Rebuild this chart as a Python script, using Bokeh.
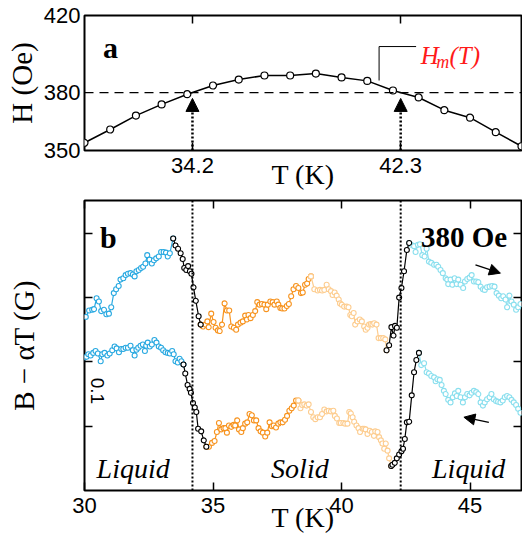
import math
from bokeh.plotting import figure
from bokeh.models import Range1d, LinearAxis, FixedTicker, Span, Label, Arrow, NormalHead
from bokeh.layouts import column
from bokeh.embed import file_html
from bokeh.resources import INLINE

SERIF = "Liberation Serif"
SANS = "Liberation Sans"

# ---------------- panel a data ----------------
T_a = [30, 31, 32, 33, 34, 35, 36, 37, 38, 39, 40, 41, 42, 43, 44, 45, 46, 47]
H_a = [354.0, 360.9, 368.1, 373.9, 379.2, 383.7, 386.8, 388.9, 388.9, 389.9,
       387.9, 386.1, 381.1, 377.5, 370.9, 367.0, 359.5, 352.2]
H_set = 380
T_cross = [34.2, 42.3]
a_yticks = [350, 380, 420]

# ---------------- panel b data (upper curve: warming) ----------------
up_blue_T = [30.05, 30.18, 30.30, 30.37, 30.47, 30.56, 30.65, 30.76, 30.85, 30.95, 31.04, 31.14, 31.23,
             31.33, 31.40, 31.51, 31.60, 31.69, 31.79, 31.88, 31.95, 32.02, 32.11, 32.20, 32.28, 32.37,
             32.44, 32.53, 32.62, 32.70, 32.79, 32.89, 32.98, 33.08, 33.17, 33.24, 33.32, 33.45]
up_blue_B = [0.270, 0.280, 0.281, 0.282, 0.299, 0.294, 0.279, 0.281, 0.274, 0.275, 0.285, 0.307, 0.313,
             0.318, 0.328, 0.330, 0.335, 0.337, 0.338, 0.336, 0.333, 0.341, 0.343, 0.346, 0.348, 0.353,
             0.366, 0.359, 0.353, 0.358, 0.361, 0.364, 0.371, 0.371, 0.370, 0.364, 0.369, 0.392]
up_blk1_T = [33.45, 33.54, 33.64, 33.74, 33.82, 33.88, 33.96, 34.03, 34.10, 34.16, 34.24, 34.33, 34.44, 34.52]
up_blk1_B = [0.392, 0.381, 0.376, 0.369, 0.360, 0.346, 0.343, 0.349, 0.341, 0.337, 0.316, 0.295, 0.271, 0.258]
up_or_T = [34.52, 34.61, 34.70, 34.78, 34.83, 34.93, 35.02, 35.10, 35.19, 35.26, 35.35, 35.45, 35.54,
           35.63, 35.71, 35.81, 35.90, 35.97, 36.07, 36.16, 36.25, 36.32, 36.38, 36.46, 36.55, 36.64,
           36.72, 36.81, 36.90, 37.00, 37.07, 37.13, 37.23, 37.32, 37.39, 37.48, 37.54, 37.62, 37.69,
           37.78, 37.87, 37.95, 38.04, 38.13, 38.23, 38.32, 38.42, 38.49, 38.58, 38.66, 38.72, 38.81]
up_or_B = [0.258, 0.255, 0.258, 0.263, 0.254, 0.275, 0.262, 0.253, 0.249, 0.248, 0.258, 0.291, 0.280,
           0.280, 0.255, 0.253, 0.250, 0.258, 0.261, 0.263, 0.272, 0.266, 0.273, 0.268, 0.273, 0.279,
           0.293, 0.289, 0.290, 0.289, 0.282, 0.289, 0.294, 0.293, 0.289, 0.294, 0.289, 0.284, 0.283,
           0.283, 0.287, 0.290, 0.302, 0.313, 0.318, 0.315, 0.307, 0.308, 0.320, 0.322, 0.329, 0.333]
up_lo_T = [38.81, 38.94, 39.07, 39.16, 39.24, 39.33, 39.42, 39.50, 39.59, 39.65, 39.73, 39.81, 39.89,
           39.94, 40.01, 40.10, 40.20, 40.27, 40.34, 40.40, 40.47, 40.53, 40.62, 40.71, 40.79, 40.88,
           40.94, 41.01, 41.07, 41.14, 41.20, 41.27, 41.36, 41.44, 41.53, 41.62, 41.70, 41.75]
up_lo_B = [0.333, 0.313, 0.311, 0.312, 0.311, 0.312, 0.320, 0.313, 0.310, 0.304, 0.308, 0.303, 0.297,
           0.291, 0.289, 0.286, 0.286, 0.285, 0.273, 0.271, 0.276, 0.258, 0.263, 0.266, 0.263, 0.255,
           0.250, 0.253, 0.258, 0.259, 0.258, 0.260, 0.258, 0.237, 0.237, 0.237, 0.235, 0.218]
up_blk2_T = [41.75, 41.85, 41.94, 42.02, 42.08, 42.15, 42.24, 42.33, 42.43, 42.54, 42.63]
up_blk2_B = [0.218, 0.226, 0.254, 0.241, 0.256, 0.253, 0.300, 0.315, 0.341, 0.374, 0.385]
up_cy_T = [42.63, 42.72, 42.82, 42.88, 42.97, 43.05, 43.14, 43.23, 43.31, 43.40, 43.49, 43.60, 43.69,
           43.76, 43.85, 43.94, 44.05, 44.11, 44.15, 44.24, 44.31, 44.40, 44.48, 44.54, 44.63, 44.73,
           44.80, 44.89, 44.98, 45.06, 45.15, 45.24, 45.32, 45.41, 45.50, 45.57, 45.66, 45.76, 45.86,
           45.95, 46.03, 46.12, 46.21, 46.29, 46.38, 46.44, 46.53, 46.61, 46.70, 46.79, 46.87, 46.96]
up_cy_B = [0.385, 0.382, 0.380, 0.371, 0.382, 0.383, 0.366, 0.364, 0.376, 0.356, 0.354, 0.351, 0.351,
           0.348, 0.343, 0.338, 0.330, 0.328, 0.321, 0.328, 0.320, 0.330, 0.321, 0.328, 0.320, 0.315,
           0.325, 0.329, 0.331, 0.335, 0.325, 0.325, 0.324, 0.317, 0.313, 0.312, 0.316, 0.317, 0.318,
           0.317, 0.307, 0.303, 0.299, 0.302, 0.297, 0.285, 0.303, 0.294, 0.289, 0.281, 0.285, 0.290]

# ---------------- panel b data (lower curve: cooling) ----------------
dn_blue_T = [30.00, 30.08, 30.15, 30.24, 30.34, 30.43, 30.52, 30.63, 30.69, 30.78, 30.89, 30.98, 31.08,
             31.17, 31.25, 31.34, 31.43, 31.51, 31.60, 31.69, 31.79, 31.88, 31.95, 32.02, 32.09, 32.18,
             32.27, 32.35, 32.40, 32.46, 32.54, 32.62, 32.72, 32.80, 32.89, 32.98, 33.06, 33.15, 33.24,
             33.32, 33.41, 33.47, 33.54, 33.63, 33.70, 33.77, 33.85]
dn_blue_B = [0.207, 0.208, 0.212, 0.210, 0.214, 0.217, 0.213, 0.201, 0.212, 0.214, 0.210, 0.213, 0.218,
             0.224, 0.221, 0.215, 0.220, 0.220, 0.222, 0.222, 0.225, 0.218, 0.210, 0.219, 0.222, 0.225,
             0.227, 0.217, 0.225, 0.230, 0.224, 0.227, 0.234, 0.230, 0.224, 0.222, 0.218, 0.215, 0.214,
             0.213, 0.217, 0.212, 0.201, 0.199, 0.205, 0.201, 0.196]
dn_blk1_T = [33.85, 33.92, 34.01, 34.09, 34.14, 34.22, 34.29, 34.35, 34.42, 34.54, 34.64, 34.74]
dn_blk1_B = [0.196, 0.182, 0.164, 0.158, 0.152, 0.136, 0.129, 0.122, 0.096, 0.092, 0.078, 0.068]
dn_or_T = [34.74, 34.84, 34.96, 35.06, 35.15, 35.23, 35.32, 35.41, 35.48, 35.54, 35.62, 35.71, 35.80,
           35.86, 35.94, 36.01, 36.10, 36.16, 36.25, 36.33, 36.42, 36.51, 36.59, 36.68, 36.77, 36.85,
           36.94, 37.03, 37.11, 37.20, 37.29, 37.36, 37.45, 37.54, 37.62, 37.71, 37.80, 37.88, 37.97,
           38.06, 38.14, 38.23, 38.32]
dn_or_B = [0.068, 0.068, 0.074, 0.077, 0.091, 0.105, 0.095, 0.097, 0.097, 0.090, 0.101, 0.099, 0.102,
           0.101, 0.109, 0.095, 0.091, 0.097, 0.104, 0.106, 0.119, 0.117, 0.109, 0.109, 0.097, 0.092,
           0.090, 0.084, 0.090, 0.106, 0.100, 0.101, 0.098, 0.104, 0.106, 0.106, 0.110, 0.116, 0.124,
           0.128, 0.132, 0.140, 0.140]
dn_lo_T = [38.32, 38.40, 38.47, 38.55, 38.64, 38.72, 38.81, 38.90, 38.98, 39.07, 39.16, 39.24, 39.33,
           39.42, 39.50, 39.59, 39.68, 39.74, 39.82, 39.91, 39.97, 40.07, 40.14, 40.23, 40.30, 40.36,
           40.43, 40.49, 40.58, 40.66, 40.72, 40.82, 40.88, 40.94, 41.01, 41.10, 41.18, 41.26, 41.31,
           41.40, 41.46, 41.53, 41.59, 41.66, 41.72, 41.79, 41.85, 41.93]
dn_lo_B = [0.140, 0.128, 0.133, 0.134, 0.132, 0.134, 0.122, 0.114, 0.111, 0.114, 0.114, 0.119, 0.126,
           0.123, 0.124, 0.123, 0.124, 0.116, 0.112, 0.105, 0.105, 0.105, 0.104, 0.104, 0.122, 0.120,
           0.114, 0.107, 0.101, 0.097, 0.091, 0.096, 0.096, 0.095, 0.088, 0.093, 0.091, 0.085, 0.092,
           0.091, 0.083, 0.078, 0.073, 0.065, 0.073, 0.062, 0.050, 0.038]
dn_blk2_T = [41.93, 41.98, 42.07, 42.15, 42.24, 42.33, 42.39, 42.46, 42.54, 42.63, 42.73, 42.82, 42.91, 43.01]
dn_blk2_B = [0.038, 0.040, 0.043, 0.050, 0.056, 0.061, 0.065, 0.080, 0.106, 0.107, 0.148, 0.184, 0.203, 0.214]
dn_cy_T = [43.01, 43.10, 43.21, 43.31, 43.40, 43.49, 43.60, 43.66, 43.73, 43.82, 43.89, 43.98, 44.05,
           44.15, 44.24, 44.33, 44.41, 44.48, 44.54, 44.63, 44.72, 44.80, 44.89, 44.98, 45.06, 45.15,
           45.24, 45.32, 45.41, 45.50, 45.57, 45.66, 45.76, 45.83, 45.92, 46.01, 46.09, 46.18, 46.27,
           46.35, 46.44, 46.53, 46.61, 46.70, 46.79, 46.87, 46.96]
dn_cy_B = [0.214, 0.195, 0.198, 0.184, 0.182, 0.178, 0.176, 0.170, 0.173, 0.172, 0.164, 0.155, 0.150,
           0.141, 0.137, 0.145, 0.151, 0.147, 0.155, 0.145, 0.137, 0.145, 0.150, 0.148, 0.152, 0.155,
           0.153, 0.150, 0.137, 0.132, 0.137, 0.142, 0.145, 0.150, 0.142, 0.139, 0.138, 0.137, 0.140,
           0.145, 0.147, 0.145, 0.141, 0.137, 0.133, 0.127, 0.121]

b_xticks = [30, 35, 40, 45]
b_yticks = [0.1, 0.2, 0.3, 0.4]

C_BLUE = "#29a9e1"
C_ORANGE = "#f7931e"
C_LORANGE = "#fdcd90"
C_CYAN = "#8adfee"
C_BLACK = "#000000"

W = 522
ML, MR = 84, 1


def add_axis(p, place, ticks, labels=True, tick_len=8, standoff=7,
             title=None, title_standoff=0, title_size="28px"):
    ax = LinearAxis(ticker=FixedTicker(ticks=ticks))
    ax.axis_line_color = None
    ax.major_tick_in = tick_len
    ax.major_tick_out = 0
    ax.major_tick_line_color = "black" if tick_len > 0 else None
    ax.major_tick_line_width = 1.5
    ax.minor_tick_line_color = None
    if labels:
        ax.major_label_text_font = SANS
        ax.major_label_text_font_size = "22px"
        ax.major_label_text_color = "black"
        ax.major_label_standoff = standoff
    else:
        ax.major_label_overrides = {t: "" for t in ticks}
        ax.major_label_text_font_size = "1px"
        ax.major_label_standoff = 0
    if title is not None:
        ax.axis_label = title
        ax.axis_label_text_font = SERIF
        ax.axis_label_text_font_size = title_size
        ax.axis_label_text_font_style = "normal"
        ax.axis_label_text_color = "black"
        ax.axis_label_standoff = title_standoff
    p.add_layout(ax, place)
    return ax


def base_fig(height, xr, yr, top, bottom):
    p = figure(width=W, height=height, x_range=xr, y_range=yr,
               output_backend="svg", toolbar_location=None,
               x_axis_location=None, y_axis_location=None,
               min_border_left=ML, min_border_right=MR,
               min_border_top=top, min_border_bottom=bottom)
    p.grid.grid_line_color = None
    p.outline_line_color = "black"
    p.outline_line_width = 2
    p.outline_line_alpha = 1
    p.background_fill_color = "white"
    p.border_fill_color = "white"
    return p


def lbl(p, x, y, text, size, font=SERIF, style="normal", color="black",
        align="left", baseline="alphabetic", angle=0):
    p.add_layout(Label(x=x, y=y, text=text, text_font=font, text_font_size=size,
                       text_font_style=style, text_color=color, text_align=align,
                       text_baseline=baseline, angle=angle))


# ================= panel a =================
pa = base_fig(196, Range1d(30, 47), Range1d(350, 420), 15, 46)
add_axis(pa, "below", T_cross, labels=True, tick_len=8, standoff=7,
         title="T (K)", title_standoff=-17, title_size="28px")
add_axis(pa, "above", T_cross, labels=False, tick_len=8)
add_axis(pa, "left", a_yticks, labels=True, tick_len=0, standoff=4,
         title="H (Oe)", title_standoff=3, title_size="29px")

pa.add_layout(Span(location=H_set, dimension="width", line_color="black",
                   line_width=1.2, line_dash="9 6"))
for tc in T_cross:
    pa.add_layout(Arrow(end=NormalHead(size=13, fill_color="black", line_color="black", line_width=1),
                        x_start=tc, y_start=350, x_end=tc, y_end=377,
                        line_color="black", line_width=2.5, line_dash="2 2"))
pa.line(T_a, H_a, line_color="black", line_width=1.5)
pa.scatter(T_a, H_a, marker="circle", size=7, fill_color="white", line_color="black", line_width=1.2)

# leader line for H_m(T)
pa.line([41.46, 41.46, 42.90], [386.3, 403.9, 403.9], line_color="black", line_width=1)
lbl(pa, 43.08, 399.3, "H", "25px", style="italic", color="#ff1a1a")
lbl(pa, 43.68, 396.0, "m", "18px", style="italic", color="#ff1a1a")
lbl(pa, 44.20, 399.3, "(T)", "25px", style="italic", color="#ff1a1a")

lbl(pa, 30.72, 403.4, "a", "30px", style="bold")

# ================= panel b =================
pb = base_fig(343, Range1d(30, 47), Range1d(0, 0.451), 4, 49)
add_axis(pb, "below", b_xticks, labels=True, tick_len=8, standoff=7,
         title="T (K)", title_standoff=-14, title_size="28px")
add_axis(pb, "above", b_xticks, labels=False, tick_len=8)
add_axis(pb, "left", b_yticks, labels=False, tick_len=8,
         title="B \u2212 \u03b1T (G)", title_standoff=45, title_size="29px")
add_axis(pb, "right", b_yticks, labels=False, tick_len=8)

for tc in T_cross:
    pb.add_layout(Span(location=tc, dimension="height", line_color="black",
                       line_width=2, line_dash="2 2"))


def seg(p, T, B, color):
    p.line(T, B, line_color=color, line_width=1.2)
    p.scatter(T, B, marker="circle", size=5, fill_color="white", line_color=color, line_width=1.1)


seg(pb, up_blue_T, up_blue_B, C_BLUE)
seg(pb, up_or_T, up_or_B, C_ORANGE)
seg(pb, up_lo_T, up_lo_B, C_LORANGE)
seg(pb, up_cy_T, up_cy_B, C_CYAN)
seg(pb, up_blk1_T, up_blk1_B, C_BLACK)
seg(pb, up_blk2_T, up_blk2_B, C_BLACK)
seg(pb, dn_blue_T, dn_blue_B, C_BLUE)
seg(pb, dn_or_T, dn_or_B, C_ORANGE)
seg(pb, dn_lo_T, dn_lo_B, C_LORANGE)
seg(pb, dn_cy_T, dn_cy_B, C_CYAN)
seg(pb, dn_blk1_T, dn_blk1_B, C_BLACK)
seg(pb, dn_blk2_T, dn_blk2_B, C_BLACK)

pb.add_layout(Arrow(end=NormalHead(size=11, fill_color="black", line_color="black", line_width=1),
                    x_start=45.21, y_start=0.351, x_end=46.18, y_end=0.338,
                    line_color="black", line_width=1.3))
pb.add_layout(Arrow(end=NormalHead(size=11, fill_color="black", line_color="black", line_width=1),
                    x_start=45.73, y_start=0.106, x_end=44.76, y_end=0.114,
                    line_color="black", line_width=1.3))

lbl(pb, 30.60, 0.393, "b", "30px", style="bold")
lbl(pb, 46.44, 0.395, "380 Oe", "29px", style="bold", align="right")
lbl(pb, 30.47, 0.034, "Liquid", "28px", style="italic")
lbl(pb, 37.26, 0.034, "Solid", "28px", style="italic")
lbl(pb, 43.52, 0.034, "Liquid", "28px", style="italic")
lbl(pb, 30.52, 0.155, "0.1", "19px", font=SANS, align="center", baseline="middle", angle=-math.pi / 2)

layout = column(pa, pb, spacing=0)
open("out.html", "w").write(file_html(layout, INLINE, title="B - aT"))
